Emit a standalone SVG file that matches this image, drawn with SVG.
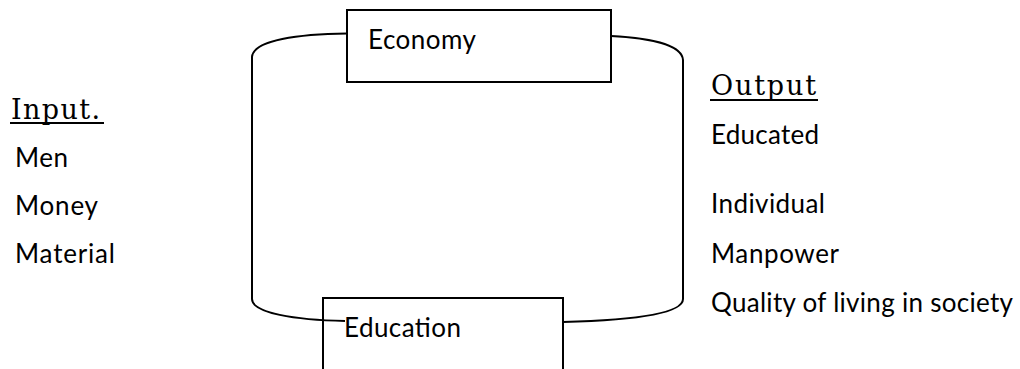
<svg xmlns="http://www.w3.org/2000/svg" width="1020" height="369" viewBox="0 0 1020 369">
<style>
.box{fill:none;stroke:#000;stroke-width:2}
.conn{fill:none;stroke:#000;stroke-width:2}
.t{font-family:Lato,"Open Sans","Liberation Sans",sans-serif;font-size:26px;fill:#000}
.h{font-family:"DejaVu Serif","Liberation Serif",serif;font-size:27px;fill:#000}
.ul{stroke:#000;stroke-width:2}
</style>
<rect width="1020" height="369" fill="#fff"/>
<g id="connectors">
<path class="conn" d="M347,33.5 C300,34 253,40 252,57 V299 C252,313 295,320 345,321"/>
<path class="conn" d="M611,36 C650,38 682,45 683,60 V299 C683,313 640,320 563,322"/>
</g>
<g id="economy">
<rect class="box" x="347" y="10" width="264" height="72"/>
<text class="t" x="368" y="49" textLength="108">Economy</text>
</g>
<g id="education">
<path class="box" d="M323,372 V298 H563 V372"/>
<text class="t" x="344" y="337" textLength="117">Education</text>
</g>
<g id="input">
<text class="h" x="11" y="119" textLength="89">Input.</text>
<line class="ul" x1="10" y1="123" x2="104" y2="123"/>
<text class="t" x="15" y="167" textLength="53">Men</text>
<text class="t" x="15" y="215" textLength="83">Money</text>
<text class="t" x="15" y="263" textLength="100">Material</text>
</g>
<g id="output">
<text class="h" x="711" y="95" textLength="105">Output</text>
<line class="ul" x1="710" y1="100" x2="818" y2="100"/>
<text class="t" x="711" y="144" textLength="108">Educated</text>
<text class="t" x="711" y="213" textLength="114">Individual</text>
<text class="t" x="711" y="263" textLength="128">Manpower</text>
<text class="t" x="711" y="312" textLength="302">Quality of living in society</text>
</g>
</svg>
